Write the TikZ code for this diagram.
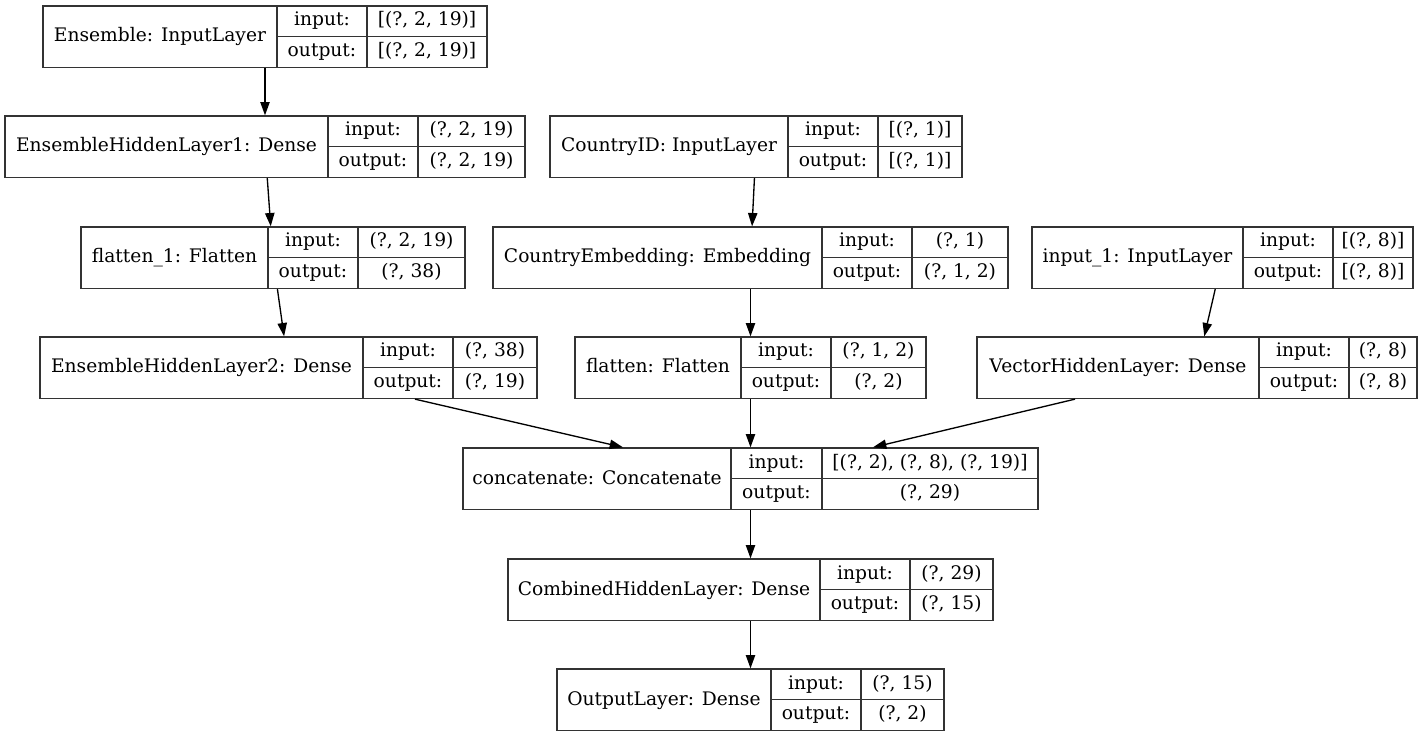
\documentclass[tikz,border=0pt]{standalone}
\usepackage{fontspec}
\setmainfont{DejaVu Serif}
\usetikzlibrary{arrows.meta,calc}

\tikzset{
  record/.style={draw=black!80, line width=1pt, inner sep=0pt, minimum height=46.1pt},
  cell/.style={inner sep=0pt, anchor=base, font=\fontsize{14}{16}\selectfont},
  sep/.style={draw=black!80, line width=1pt},
  edge/.style={line width=1pt, -{Triangle[length=10pt,width=7pt]}}
}

% one keras layer: id, left, top, first divider, second divider, right, name, input, output
\newcommand{\kerasbox}[9]{%
  \node[record, minimum width={(#6-#2)*0.75pt}] (#1) at ({(#2+#6)/2},{#3+30.75}) {};
  \node[cell] (#1-name) at ({(#2+#4)/2},{#3+36}) {#7};
  \node[cell] (#1-inl) at ({(#4+#5)/2},{#3+20}) {input:};
  \node[cell] (#1-outl) at ({(#4+#5)/2},{#3+50.5}) {output:};
  \node[cell] (#1-inv) at ({(#5+#6)/2},{#3+20}) {#8};
  \node[cell] (#1-outv) at ({(#5+#6)/2},{#3+50.5}) {#9};
  \draw[sep] (#4,#3) -- (#4,{#3+61.5});
  \draw[sep] (#5,#3) -- (#5,{#3+61.5});
  \draw[sep] (#4,{#3+30.75}) -- (#6,{#3+30.75});
}

\begin{document}
\begin{tikzpicture}[x=0.75pt,y=-0.75pt]

\useasboundingbox (0,0) rectangle (1423,737);

% Draw the layers
\kerasbox{ens}{43}{6}{277}{367}{487}{Ensemble: InputLayer}{[(?, 2, 19)]}{[(?, 2, 19)]}
\kerasbox{ehl1}{5}{116}{328}{418}{525}{EnsembleHiddenLayer1: Dense}{(?, 2, 19)}{(?, 2, 19)}
\kerasbox{cid}{550}{116}{788}{878}{962}{CountryID: InputLayer}{[(?, 1)]}{[(?, 1)]}
\kerasbox{fl1}{81}{227}{268}{358}{465}{flatten\_1: Flatten}{(?, 2, 19)}{(?, 38)}
\kerasbox{cemb}{493}{227}{822}{912}{1008}{CountryEmbedding: Embedding}{(?, 1)}{(?, 1, 2)}
\kerasbox{in1}{1032}{227}{1243}{1333}{1413}{input\_1: InputLayer}{[(?, 8)]}{[(?, 8)]}
\kerasbox{ehl2}{40}{337}{363}{453}{537}{EnsembleHiddenLayer2: Dense}{(?, 38)}{(?, 19)}
\kerasbox{fl}{575}{337}{741}{831}{926}{flatten: Flatten}{(?, 1, 2)}{(?, 2)}
\kerasbox{vhl}{977}{337}{1259}{1349}{1417}{VectorHiddenLayer: Dense}{(?, 8)}{(?, 8)}
\kerasbox{cat}{463}{448}{731}{822}{1038}{concatenate: Concatenate}{[(?, 2), (?, 8), (?, 19)]}{(?, 29)}
\kerasbox{comb}{508}{559}{820}{910}{993}{CombinedHiddenLayer: Dense}{(?, 29)}{(?, 15)}
\kerasbox{out}{557}{669}{771}{861}{944}{OutputLayer: Dense}{(?, 15)}{(?, 2)}

% Draw the arrows between the layers
\draw[edge] (ens) -- (ehl1);
\draw[edge] (ehl1) -- (fl1);
\draw[edge] (fl1) -- (ehl2);
\draw[edge] (cid) -- (cemb);
\draw[edge] (cemb) -- (fl);
\draw[edge] (in1) -- (vhl);
\draw[edge] ($(ehl2.south)+(126.5,0)$) -- ($(cat.north)+(-127.5,0)$);
\draw[edge] (fl) -- (cat);
\draw[edge] ($(vhl.south)+(-122,0)$) -- ($(cat.north)+(122.5,0)$);
\draw[edge] (cat) -- (comb);
\draw[edge] (comb) -- (out);

\end{tikzpicture}
\end{document}
